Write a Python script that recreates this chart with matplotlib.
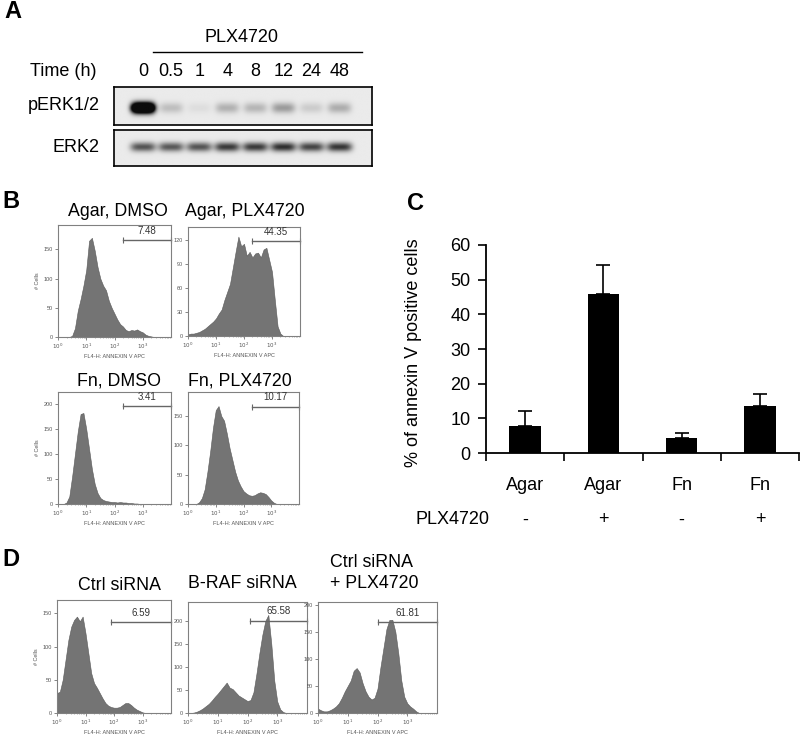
import numpy as np
import matplotlib
matplotlib.use('Agg')
import matplotlib.pyplot as plt
from matplotlib import transforms

# --- panel A: western blot ---
time_labels = ['0', '0.5', '1', '4', '8', '12', '24', '48']
perk_darkness = [2.5, 0.2, 0.06, 0.26, 0.24, 0.36, 0.14, 0.28]
erk2_darkness = [0.68, 0.66, 0.68, 0.8, 0.8, 0.85, 0.75, 0.82]

# --- panel B/D: flow histograms, counts every 0.1 decade from 10^0 ---
agar_dmso = [0, 0, 0, 0, 0, 2, 15, 45, 65, 88, 115, 165, 170, 148, 120, 100, 88, 80,
             62, 50, 40, 30, 22, 18, 12, 10, 12, 11, 13, 10, 8, 4, 2, 1, 0]
agar_plx = [2, 3, 3, 4, 5, 7, 9, 12, 15, 18, 22, 28, 33, 45, 55, 65, 85, 105, 124, 112,
            115, 100, 105, 98, 103, 104, 98, 108, 110, 95, 80, 45, 12, 3, 0]
fn_dmso = [0, 0, 0, 3, 15, 55, 100, 145, 180, 182, 150, 110, 70, 40, 22, 12, 8, 6, 5, 4,
           4, 3, 4, 3, 3, 2, 2, 1, 1, 0]
fn_plx = [0, 0, 0, 0, 3, 10, 25, 55, 90, 130, 160, 167, 150, 142, 120, 95, 75, 55, 40, 30,
          22, 18, 15, 14, 15, 18, 20, 19, 17, 12, 6, 2, 0]
ctrl_sirna = [30, 32, 50, 80, 110, 130, 140, 145, 138, 145, 120, 90, 60, 45, 38, 30, 22, 15,
              11, 9, 8, 8, 9, 12, 15, 15, 12, 8, 5, 3, 1, 0]
braf_sirna = [0, 0, 1, 3, 6, 10, 15, 20, 27, 35, 42, 50, 58, 66, 55, 52, 45, 38, 34, 30, 26,
              28, 45, 85, 130, 170, 200, 213, 150, 70, 25, 8, 2, 0]
ctrl_plx = [8, 5, 3, 3, 5, 8, 12, 18, 28, 40, 50, 60, 78, 83, 75, 55, 40, 30, 25, 28, 45, 85,
            120, 155, 172, 172, 150, 110, 60, 30, 18, 12, 8, 3, 0]
gate_values = ['7.48', '44.35', '3.41', '10.17', '6.59', '65.58', '61.81']

# --- panel C: bar chart ---
conditions = ['Agar', 'Agar', 'Fn', 'Fn']
plx_signs = ['-', '+', '-', '+']
pct_annexin = [7.8, 45.8, 4.3, 13.6]
pct_err = [4.2, 8.4, 1.5, 3.4]

W, H = 800, 736
plt.rcParams['font.family'] = ['Liberation Sans', 'DejaVu Sans']
fig = plt.figure(figsize=(W / 100, H / 100), dpi=100)

FS = 13  # main label size


def add_ax(l, t, r, b):
    return fig.add_axes([l / W, 1 - b / H, (r - l) / W, (b - t) / H])


def fy(y):
    return 1 - y / H


def fig_text(x, y, s, **kw):
    fig.text(x / W, fy(y), s, **kw)


# panel letters
for lab, x, y in [('A', 4, 12), ('B', 2, 201), ('C', 407, 203), ('D', 2, 560)]:
    fig_text(x, y, lab, fontsize=17, fontweight='bold', ha='left', va='center')

# ---------- A ----------
XL, XR = -1.03, 8.15


def blot(ax, darkness, yc, h, w):
    xs = np.linspace(XL, XR, 500)
    ys = np.linspace(1, 0, 80)
    X, Y = np.meshgrid(xs, ys)
    dark = np.zeros_like(X)
    for i, d in enumerate(darkness):
        dark += d * np.exp(-((X - i) / w) ** 4) * np.exp(-((Y - yc) / h) ** 2)
    img = 0.92 - 0.87 * np.clip(dark, 0, 1)
    ax.imshow(img, extent=[XL, XR, 0, 1], aspect='auto', cmap='gray',
              vmin=0, vmax=1, interpolation='bilinear')
    ax.set_xlim(XL, XR)
    ax.set_ylim(0, 1)
    ax.set_xticks([])
    ax.set_yticks([])
    for s in ax.spines.values():
        s.set_linewidth(1.2)


axp = add_ax(114, 87, 372, 125)
axe = add_ax(114, 130, 372, 166)
blot(axp, perk_darkness, 0.45, 0.14, 0.42)
blot(axe, erk2_darkness, 0.53, 0.13, 0.45)

blend = transforms.blended_transform_factory(axp.transData, fig.transFigure)
for i, t in enumerate(time_labels):
    axp.text(i, fy(72), t, transform=blend, ha='center', va='center', fontsize=FS)
axp.plot([0.36, 7.8], [fy(52)] * 2, transform=blend, color='black', lw=1, clip_on=False)
axp.text(3.5, fy(37), 'PLX4720', transform=blend, ha='center', va='center', fontsize=FS)
fig_text(97, 72, 'Time (h)', ha='right', va='center', fontsize=FS)
fig_text(100, 106, 'pERK1/2', ha='right', va='center', fontsize=FS)
fig_text(100, 148, 'ERK2', ha='right', va='center', fontsize=FS)


# ---------- B and D ----------
def flow_hist(box, counts, ymax, yticks, gate_start, gate_frac, value, ylabel):
    ax = add_ax(*box)
    logx = 0.1 * np.arange(len(counts))
    ax.fill_between(10 ** logx, counts, color='#747474', edgecolor='#5a5a5a', lw=0.4)
    ax.set_xscale('log')
    ax.set_xlim(1, 1e4)
    ax.set_ylim(0, ymax)
    ax.set_xticks([1, 10, 100, 1000])
    ax.set_xticklabels([r'$10^0$', r'$10^1$', r'$10^2$', r'$10^3$'])
    ax.set_yticks(yticks)
    ax.tick_params(labelsize=4, colors='#555555', length=2, width=0.5, pad=1.5)
    ax.tick_params(which='minor', length=1, width=0.4, colors='#777777')
    for s in ax.spines.values():
        s.set_color('#808080')
        s.set_linewidth(0.8)
    ax.set_xlabel('FL4-H: ANNEXIN V APC', fontsize=4, color='#555555', labelpad=2)
    if ylabel:
        ax.set_ylabel('# Cells', fontsize=4, color='#555555', labelpad=3)
    gy = gate_frac * ymax
    ax.plot([10 ** gate_start, 1e4], [gy, gy], color='#666666', lw=1,
            marker='|', ms=4, mew=0.8, clip_on=False)
    ax.text(10 ** ((gate_start + 4) / 2), gy + 0.04 * ymax, value, ha='center',
            va='bottom', fontsize=7, color='#333333')
    return ax


flow_hist((58, 225, 171, 337), agar_dmso, 192, [0, 50, 100, 150], 2.3, 0.866, gate_values[0], True)
flow_hist((188, 227, 300, 336), agar_plx, 136, [0, 30, 60, 90, 120], 2.3, 0.87, gate_values[1], False)
flow_hist((58, 392, 171, 504), fn_dmso, 224, [0, 50, 100, 150, 200], 2.3, 0.875, gate_values[2], True)
flow_hist((188, 392, 299, 504), fn_plx, 191, [0, 50, 100, 150], 2.3, 0.87, gate_values[3], False)
flow_hist((57, 600, 171, 713), ctrl_sirna, 170, [0, 50, 100, 150], 1.9, 0.805, gate_values[4], True)
flow_hist((188, 602, 307, 713), braf_sirna, 241, [0, 50, 100, 150, 200], 2.1, 0.83, gate_values[5], False)
flow_hist((318, 602, 437, 713), ctrl_plx, 205, [0, 50, 100, 150, 200], 2.0, 0.82, gate_values[6], False)

for s, x, y in [('Agar, DMSO', 118, 216), ('Agar, PLX4720', 245, 216),
                ('Fn, DMSO', 119, 385), ('Fn, PLX4720', 240, 385),
                ('Ctrl siRNA', 119, 590), ('B-RAF siRNA', 242, 588),
                ('Ctrl siRNA', 372, 567), ('+ PLX4720', 374, 588)]:
    fig_text(x, y, s, ha='center', va='baseline', fontsize=12.8)

# ---------- C ----------
axc = add_ax(486, 245, 799, 453)
xpos = np.arange(len(conditions))
axc.bar(xpos, pct_annexin, width=0.4, color='black')
axc.errorbar(xpos, pct_annexin, yerr=[np.zeros(len(pct_err)), pct_err], fmt='none',
             ecolor='black', elinewidth=1.2, capsize=5, capthick=1.2)
axc.set_xlim(-0.5, 3.5)
axc.set_ylim(0, 60)
axc.spines['top'].set_visible(False)
axc.spines['right'].set_visible(False)
axc.spines['left'].set_linewidth(1.3)
axc.spines['bottom'].set_linewidth(1.3)
axc.set_yticks(range(0, 61, 10))
axc.set_xticks(np.arange(-0.5, 3.6, 1))
axc.set_xticklabels([])
axc.tick_params(axis='y', labelsize=FS, length=6, width=1.2, pad=5)
axc.tick_params(axis='x', length=6, width=1.2)
axc.set_ylabel('% of annexin V positive cells', fontsize=FS)
axc.yaxis.set_label_coords(-0.205, 0.48)
ct = transforms.blended_transform_factory(axc.transData, axc.transAxes)
for i, (c, s) in enumerate(zip(conditions, plx_signs)):
    axc.text(i, -0.154, c, transform=ct, ha='center', va='center', fontsize=FS)
    axc.text(i, -0.322, s, transform=ct, ha='center', va='center', fontsize=FS)
axc.text(-0.45, -0.322, 'PLX4720', transform=ct, ha='right', va='center', fontsize=FS)

fig.savefig('out.png', dpi=100)
